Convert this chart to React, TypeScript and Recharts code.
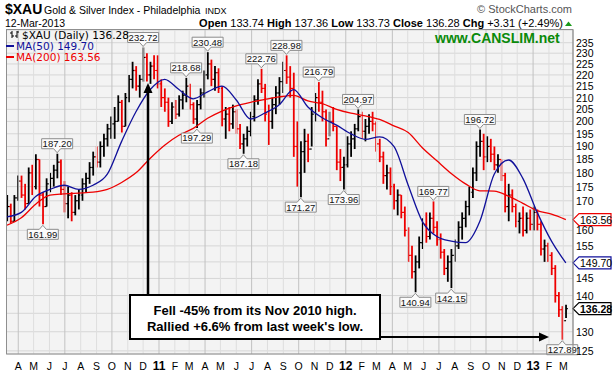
import React from 'react';
import {
  ComposedChart,
  Bar,
  Line,
  XAxis,
  YAxis,
  CartesianGrid,
  ReferenceLine,
  ReferenceDot,
} from 'recharts';

// weekly bars, day numbers counted from 1-Mar-2010; first bar is the week of 10-Mar-2010
const FIRST_DAY = 9;
const DAYS_PER_BAR = 7;

const weekHigh = [
  172, 169, 172, 179, 179, 176, 182, 183, 187, 185, 173, 178, 180, 183, 187.2, 185, 177, 175, 173, 172,
  174, 178, 180, 184, 188, 190, 192, 195, 199, 202, 206, 211, 209, 212, 220, 226, 224, 220, 232.72, 230,
  226, 229, 229, 218, 214, 210, 208, 209, 211, 213, 218.68, 216, 208, 209, 214, 222, 230.48, 227, 224, 223,
  215, 206, 206, 207, 205, 199, 195, 198, 204, 211, 218, 222.76, 216, 207, 210, 215, 219, 226, 228.98, 224,
  221, 200, 192, 197, 195, 206, 212, 216.79, 213, 205, 204, 206, 198, 189, 186, 194, 196, 199, 204.97, 204,
  201, 203, 204, 200, 193, 188, 183, 182, 176, 174, 172, 168, 161, 155, 152, 158, 164, 166, 166, 169.77,
  163, 159, 154, 152, 154, 157, 163, 166, 170, 175, 182, 192, 196.72, 195, 194, 193, 190, 187, 185, 180,
  176, 174, 169, 166, 168, 166, 167, 168, 167, 163, 157, 156, 153, 149, 141, 137, 137.36,
];
const weekLow = [
  163, 162.3, 163, 170, 171, 167, 169, 172, 174, 168, 161.99, 168, 173, 175, 178, 172, 166, 164, 163, 165,
  167, 170, 173, 176, 179, 182, 182, 186, 190, 193, 193, 200, 195.5, 198, 208, 214, 213, 210, 217, 217,
  216, 218, 214, 206, 204, 197.8, 199, 201, 202, 205, 208, 205, 199, 197.29, 205, 210, 218, 215, 213, 212,
  198, 193, 196, 197, 195, 189, 187.18, 190, 194, 200, 207, 212, 200, 190.6, 197, 203, 207, 212, 216, 210,
  186, 175, 171.27, 180, 184, 190, 200, 204, 200, 190, 194, 196, 181, 177, 173.96, 182, 186, 189, 196, 193,
  192, 195, 196, 188, 184, 176, 174, 172, 167, 165, 164, 158, 150, 145, 140.94, 148, 154, 156, 157, 159,
  155, 151, 146, 144, 142.15, 150, 154, 157, 161, 165, 171, 177, 186, 181, 184, 184, 181, 180, 177, 166,
  163, 166, 161, 159, 158, 159, 160, 160, 160, 152, 150, 150, 146, 138, 134, 127.89, 133.73,
];
const weekClose = [
  168, 163, 171, 177, 172, 169, 180, 175, 185, 172, 168, 176, 178, 181, 184, 174, 169, 172, 166, 170,
  172, 176, 178, 182, 186, 184, 190, 193, 197, 199, 200, 208, 198, 210, 218, 222, 215, 218, 228, 220,
  224, 222, 216, 210, 208, 200, 206, 203, 209, 211, 215, 207, 201, 207, 212, 220, 225, 218, 221, 214,
  201, 203, 199, 204, 197, 191, 193, 196, 202, 209, 216, 214, 203, 200, 207, 212, 217, 222, 219, 214,
  190, 180, 188, 192, 189, 203, 210, 208, 204, 193, 200, 198, 184, 182, 183, 191, 193, 197, 202, 196,
  198, 200, 199, 191, 186, 179, 180, 175, 170, 172, 166, 160, 152, 147, 150, 156, 162, 158, 164, 161,
  157, 153, 148, 150, 152, 155, 161, 164, 168, 173, 180, 190, 192, 186, 190, 187, 183, 185, 179, 168,
  172, 168, 163, 164, 160, 164, 162, 166, 162, 154, 155, 152, 148, 140, 136, 132.97, 136.28,
];
const FIRST_OPEN = 166;

// moving averages read every 4 weeks
const MA_STEP = 4;
const ma50 = [
  164.5, 166, 171.5, 174, 175.5, 174, 175.5, 179.5, 192, 204, 213.5, 218, 213.5, 209.5, 212.5, 215, 209, 201, 203.5, 207,
  213.5, 206, 201.5, 198.5, 195, 192.8, 193.8, 190, 175.5, 162.8, 158, 156.5, 156, 163, 179.5, 184.8, 178, 166, 156.5, 149.7,
];
const ma200 = [
  161.7, 164.2, 168.8, 172, 172.4, 172.7, 173, 174, 176.5, 180, 185.5, 190.5, 194.4, 197.2, 201.3, 204.3, 206.5, 208, 209.2, 210.3,
  211, 208.6, 207.4, 205, 203.4, 202.3, 200.8, 198.2, 195.5, 189.4, 184.5, 179.8, 176, 173.5, 173.4, 171.6, 169.1, 166.6, 165.4, 163.56,
];

const monthLabels = [
  'A', 'M', 'J', 'J', 'A', 'S', 'O', 'N', 'D', '11', 'F', 'M',
  'A', 'M', 'J', 'J', 'A', 'S', 'O', 'N', 'D', '12', 'F', 'M',
  'A', 'M', 'J', 'J', 'A', 'S', 'O', 'N', 'D', '13', 'F', 'M',
];
const priceTicks = [125, 130, 135, 140, 145, 150, 155, 160, 165, 170, 175, 180, 185, 190, 195, 200, 205, 210, 215, 220, 225, 230, 235];

// weeks carrying a price callout
const peakWeeks = [14, 38, 50, 56, 71, 78, 87, 98, 119, 132];
const troughWeeks = [10, 53, 66, 82, 94, 114, 124, 155];

const LAST_MA50 = 149.7;
const LAST_MA200 = 163.56;
const LAST_CLOSE = 136.28;
const lastValues = [LAST_MA50, LAST_MA200, LAST_CLOSE];

const X_DOMAIN = [9, 1115];
const Y_DOMAIN = [124.2, 241.2];

const SANS = '"Liberation Sans", Arial, sans-serif';
const VERDANA = '"DejaVu Sans", Verdana, sans-serif';
const BLUE = '#10109a';
const RED = '#ee0000';

const dayOf = (w: number) => FIRST_DAY + DAYS_PER_BAR * w;

const bars = weekHigh.map((h, i) => ({
  x: dayOf(i),
  range: [weekLow[i], h],
  open: i > 0 ? weekClose[i - 1] : FIRST_OPEN,
  close: weekClose[i],
}));

const ma50Data = ma50.map((v, i) => ({ x: dayOf(i * MA_STEP), v }));
const ma200Data = ma200.map((v, i) => ({ x: dayOf(i * MA_STEP), v }));

const monthDays = monthLabels.map((_, i) =>
  Math.round((Date.UTC(2010, 3 + i, 1) - Date.UTC(2010, 2, 1)) / 86400000)
);

const OhlcBar = (props: any) => {
  const { x, y, width, height, payload } = props;
  if (!payload) return null;
  const top = Math.min(y, y + height);
  const h = Math.abs(height);
  const cx = x + width / 2;
  const [lo, hi] = payload.range;
  const at = (v: number) => top + (h * Math.log(hi / v)) / Math.log(hi / lo);
  const col = payload.close >= payload.open ? '#000' : RED;
  return (
    <g stroke={col} strokeWidth={1.8}>
      <line x1={cx} x2={cx} y1={top} y2={top + h} />
      <line x1={cx - 1.8} x2={cx} y1={at(payload.open)} y2={at(payload.open)} strokeWidth={1.2} />
      <line x1={cx} x2={cx + 1.8} y1={at(payload.close)} y2={at(payload.close)} strokeWidth={1.2} />
    </g>
  );
};

const Callout = ({ cx, cy, text, below }: { cx: number; cy: number; text: string; below: boolean }) => {
  const w = 31;
  const h = 10;
  const gap = 5;
  const hw = 3.5;
  const top = below ? cy + gap : cy - gap - h;
  const left = cx - w / 2;
  const right = cx + w / 2;
  const d = below
    ? `M${left},${top} L${cx - hw},${top} L${cx},${cy + 1} L${cx + hw},${top} L${right},${top} L${right},${top + h} L${left},${top + h} Z`
    : `M${left},${top} L${right},${top} L${right},${top + h} L${cx + hw},${top + h} L${cx},${cy - 1} L${cx - hw},${top + h} L${left},${top + h} Z`;
  return (
    <g>
      <path d={d} fill="#fbfbfb" stroke="#8c8c8c" strokeWidth={1} />
      <text x={cx} y={top + h - 1.6} textAnchor="middle" fontSize={9.5} fontFamily={SANS} fill="#111">
        {text}
      </text>
    </g>
  );
};

const ValueBox = ({ cx, cy, text, color, bold }: any) => (
  <g>
    <path
      d={`M${cx},${cy} L${cx + 6},${cy - 6} L${cx + 38},${cy - 6} L${cx + 38},${cy + 6} L${cx + 6},${cy + 6} Z`}
      fill="#fff"
      stroke={color}
      strokeWidth={1.2}
    />
    <text x={cx + 7} y={cy + 4} fontSize={10.5} fontFamily={SANS} fontWeight={bold ? 'bold' : 'normal'} fill="#000">
      {text}
    </text>
  </g>
);

const MonthTick = (props: any) => {
  const { x, y, payload } = props;
  const idx = monthDays.indexOf(payload.value);
  const label = idx >= 0 ? monthLabels[idx] : '';
  const isYear = /\d/.test(label);
  return (
    <text
      x={x}
      y={y + 14}
      textAnchor="middle"
      fontSize={isYear ? 12 : 10.5}
      fontWeight={isYear ? 'bold' : 'normal'}
      fontFamily={SANS}
      fill="#000"
    >
      {label}
    </text>
  );
};

// price labels hidden behind the last-value boxes are left out, as in the source chart
const PriceTick = (props: any) => {
  const { x, y, payload } = props;
  const covered = lastValues.some((v) => Math.abs(Math.log(payload.value / v)) < 0.02);
  if (covered) return null;
  return (
    <text x={x} y={y + 4} textAnchor="start" fontSize={10.5} fontFamily={SANS} fill="#000">
      {payload.value}
    </text>
  );
};

export default function App() {
  return (
    <div
      style={{
        position: 'absolute',
        left: 0,
        top: 0,
        width: 614,
        height: 376,
        background: '#fff',
        overflow: 'hidden',
        fontFamily: SANS,
      }}
    >
      <ComposedChart width={614} height={376} data={bars} margin={{ top: 30, right: 0, bottom: 0, left: 7 }}>
        <CartesianGrid vertical={false} stroke="#d6d6d6" fill="#f3f3f3" />
        {monthDays.map((d, i) => (
          <ReferenceLine key={d} x={d} stroke={i % 3 === 0 ? '#c2c2c2' : '#dedede'} strokeWidth={1} />
        ))}
        <XAxis
          type="number"
          dataKey="x"
          domain={X_DOMAIN}
          ticks={monthDays}
          interval={0}
          allowDataOverflow
          height={22}
          axisLine={false}
          tickLine={false}
          tickSize={0}
          tick={<MonthTick />}
        />
        <YAxis
          orientation="right"
          scale="log"
          domain={Y_DOMAIN}
          ticks={priceTicks}
          interval={0}
          allowDataOverflow
          width={41}
          axisLine={{ stroke: '#a8a8a8' }}
          tickLine={false}
          tickSize={0}
          tickMargin={3}
          tick={<PriceTick />}
        />
        <Bar dataKey="range" barSize={2} shape={<OhlcBar />} isAnimationActive={false} />
        <Line
          data={ma200Data}
          dataKey="v"
          type="monotone"
          stroke={RED}
          strokeWidth={1.3}
          dot={false}
          isAnimationActive={false}
        />
        <Line
          data={ma50Data}
          dataKey="v"
          type="monotone"
          stroke={BLUE}
          strokeWidth={1.3}
          dot={false}
          isAnimationActive={false}
        />
        {peakWeeks.map((w) => (
          <ReferenceDot
            key={'p' + w}
            x={dayOf(w)}
            y={weekHigh[w]}
            r={0}
            ifOverflow="visible"
            shape={(p: any) => <Callout cx={p.cx} cy={p.cy} text={weekHigh[w].toFixed(2)} below={false} />}
          />
        ))}
        {troughWeeks.map((w) => (
          <ReferenceDot
            key={'t' + w}
            x={dayOf(w)}
            y={weekLow[w]}
            r={0}
            ifOverflow="visible"
            shape={(p: any) => <Callout cx={p.cx} cy={p.cy} text={weekLow[w].toFixed(2)} below />}
          />
        ))}
        <ReferenceDot
          x={X_DOMAIN[1]}
          y={LAST_MA200}
          r={0}
          ifOverflow="visible"
          shape={(p: any) => <ValueBox cx={p.cx} cy={p.cy} text={LAST_MA200.toFixed(2)} color={RED} />}
        />
        <ReferenceDot
          x={X_DOMAIN[1]}
          y={LAST_MA50}
          r={0}
          ifOverflow="visible"
          shape={(p: any) => <ValueBox cx={p.cx} cy={p.cy} text={LAST_MA50.toFixed(2)} color={BLUE} />}
        />
        <ReferenceDot
          x={X_DOMAIN[1]}
          y={LAST_CLOSE}
          r={0}
          ifOverflow="visible"
          shape={(p: any) => <ValueBox cx={p.cx} cy={p.cy} text={LAST_CLOSE.toFixed(2)} color="#000" bold />}
        />
      </ComposedChart>

      {/* titles, legend and the note with its arrows */}
      <svg width={614} height={376} style={{ position: 'absolute', left: 0, top: 0, pointerEvents: 'none' }}>
        <rect x={6.5} y={29.5} width={566.5} height={324.5} fill="none" stroke="#8f8f8f" />
        <text x={5} y={14} fontSize={14} fontWeight="bold" fontFamily={SANS}>$XAU</text>
        <text x={44} y={14} fontSize={10.5} fontFamily={SANS}>Gold &amp; Silver Index - Philadelphia</text>
        <text x={205} y={14} fontSize={9} fontFamily={SANS}>INDX</text>
        <text x={5} y={27} fontSize={10.5} fontFamily={SANS}>12-Mar-2013</text>
        <text x={563} y={27} fontSize={11} fontFamily={SANS} textAnchor="end">
          <tspan fontWeight="bold">Open</tspan> 133.74 <tspan fontWeight="bold">High</tspan> 137.36{' '}
          <tspan fontWeight="bold">Low</tspan> 133.73 <tspan fontWeight="bold">Close</tspan> 136.28{' '}
          <tspan fontWeight="bold">Chg</tspan> +3.31 (+2.49%)
        </text>
        <polygon points="565,26 572,26 568.5,21.5" fill="#1a9a1a" />
        <text x={572} y={13} fontSize={11} fontFamily={SANS} fill="#555" textAnchor="end">© StockCharts.com</text>

        <g stroke="#000" strokeWidth={1}>
          <line x1={12} x2={12} y1={31} y2={38} />
          <line x1={10} x2={12} y1={33} y2={33} />
          <line x1={12} x2={14} y1={36} y2={36} />
          <line x1={17} x2={17} y1={31} y2={38} />
          <line x1={15} x2={17} y1={36} y2={36} />
          <line x1={17} x2={19} y1={32} y2={32} />
        </g>
        <text x={22} y={38.5} fontSize={10.5} fontFamily={VERDANA}>$XAU (Daily) 136.28</text>
        <line x1={6} x2={14} y1={46} y2={46} stroke={BLUE} strokeWidth={2} />
        <text x={16} y={49.5} fontSize={10.5} fontFamily={VERDANA} fill={BLUE}>MA(50) 149.70</text>
        <line x1={6} x2={14} y1={57} y2={57} stroke={RED} strokeWidth={2} />
        <text x={16} y={60.5} fontSize={10.5} fontFamily={VERDANA} fill={RED}>MA(200) 163.56</text>

        <text x={435} y={43} fontSize={14} fontWeight="bold" fontFamily={SANS} fill="#0a8a0a">www.CANSLIM.net</text>

        <line x1={148} x2={148} y1={295} y2={91} stroke="#000" strokeWidth={2.5} />
        <polygon points="148,83 143.5,93 152.5,93" fill="#000" />
        <line x1={380} x2={541} y1={337} y2={337} stroke="#000" strokeWidth={2} />
        <polygon points="549,337 539,332.5 539,341.5" fill="#000" />
        <rect x={130} y={295} width={250} height={44} fill="#fff" stroke="#000" strokeWidth={2} />
        <text x={255} y={315} textAnchor="middle" fontSize={13} fontWeight="bold" fontFamily={SANS}>
          Fell -45% from its Nov 2010 high.
        </text>
        <text x={255} y={331} textAnchor="middle" fontSize={13} fontWeight="bold" fontFamily={SANS}>
          Rallied +6.6% from last week's low.
        </text>
      </svg>
    </div>
  );
}
